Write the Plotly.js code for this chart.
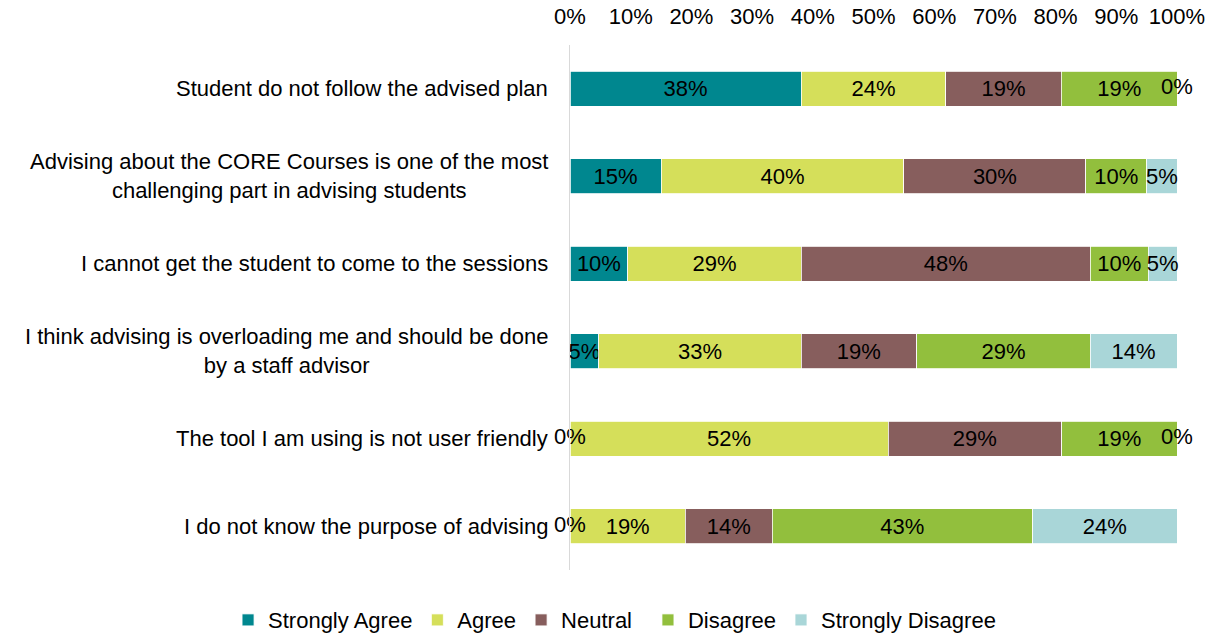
<!DOCTYPE html>
<html>
<head>
<meta charset="utf-8">
<script src="https://cdn.plot.ly/plotly-3.0.1.min.js"></script>
<style>html,body{margin:0;padding:0;background:#fff}#chart{width:1215px;height:636px}</style>
</head>
<body>
<div id="chart"></div>
<script>
const categories = [
  "Student do not follow the advised plan",
  "Advising about the CORE Courses is one of the most<br>challenging part in advising students",
  "I cannot get the student to come to the sessions",
  "I think advising is overloading me and should be done<br>by a staff advisor",
  "The tool I am using is not user friendly",
  "I do not know the purpose of advising"
];
const seriesNames = ["Strongly Agree", "Agree", "Neutral", "Disagree", "Strongly Disagree"];
const stronglyAgree    = [38.1, 15, 9.52, 4.76, 0, 0];
const agree            = [23.8, 40, 28.6, 33.3, 52.4, 19.0];
const neutral          = [19.05, 30, 47.6, 19.05, 28.6, 14.3];
const disagree         = [19.05, 10, 9.52, 28.6, 19.0, 42.9];
const stronglyDisagree = [0, 5, 4.76, 14.29, 0, 23.8];
const tickVals = [0,10,20,30,40,50,60,70,80,90,100];
const tickText = ["0%","10%","20%","30%","40%","50%","60%","70%","80%","90%","100%"];
const colors = ["#00878F", "#D5DF5A", "#875E5D", "#92BF3D", "#A9D6D8"];

const FONT = "Liberation Sans, Arial, sans-serif";
const FS = 22;
const series = [stronglyAgree, agree, neutral, disagree, stronglyDisagree];
const yIdx = categories.map((c, i) => i);

const traces = series.map((vals, k) => ({
  type: "bar",
  orientation: "h",
  name: seriesNames[k],
  legend: k < 3 ? "legend" : "legend2",
  x: vals,
  y: yIdx,
  marker: {color: colors[k], line: {color: "#ffffff", width: 0.8}},
  width: 0.4,
  text: vals.map(v => v > 0 ? Math.round(v) + "%" : ""),
  textposition: "inside",
  insidetextanchor: "middle",
  textangle: 0,
  constraintext: "none",
  cliponaxis: false,
  textfont: {family: FONT, size: FS, color: "#000"},
  hoverinfo: "skip"
}));

// zero-value labels placed at the cumulative position of the empty segment
const zx = [], zy = [], zt = [];
categories.forEach((c, i) => {
  let cum = 0;
  series.forEach(vals => {
    if (vals[i] === 0) { zx.push(Math.min(cum, 100)); zy.push(i); zt.push("0%"); }
    cum += vals[i];
  });
});
traces.push({
  type: "scatter", mode: "text", x: zx, y: zy, text: zt,
  textposition: "middle center", cliponaxis: false, showlegend: false,
  textfont: {family: FONT, size: FS, color: "#000"}, hoverinfo: "skip"
});

const annotations = categories.map((c, i) => ({
  xref: "paper", yref: "y", x: 0, y: i, xanchor: "right", yanchor: "middle",
  xshift: -20, align: "center", showarrow: false, text: c,
  font: {family: FONT, size: FS, color: "#000"}
}));

const legendBase = {
  orientation: "h", xref: "container", yref: "container",
  xanchor: "left", y: 0.025, yanchor: "middle",
  font: {family: FONT, size: FS, color: "#000"}, traceorder: "normal",
  itemclick: false, bgcolor: "rgba(0,0,0,0)"
};

const layout = {
  width: 1215, height: 636,
  margin: {l: 570, r: 38, t: 45, b: 66},
  paper_bgcolor: "#fff", plot_bgcolor: "#fff",
  barmode: "stack",
  font: {family: FONT, size: FS, color: "#000"},
  xaxis: {
    side: "top", range: [0, 100], tickvals: tickVals, ticktext: tickText,
    showgrid: false, zeroline: false, showline: false, ticks: "",
    ticklabelstandoff: 16,
    tickfont: {family: FONT, size: FS, color: "#000"}, fixedrange: true
  },
  yaxis: {
    range: [5.5, -0.5], showticklabels: false, showgrid: false, zeroline: false,
    showline: true, linecolor: "#d9d9d9", linewidth: 1.5, ticks: "", fixedrange: true
  },
  showlegend: true,
  legend: Object.assign({}, legendBase, {x: 0.1877}),
  legend2: Object.assign({}, legendBase, {x: 0.5333}),
  annotations: annotations
};

Plotly.newPlot("chart", traces, layout, {displayModeBar: false, staticPlot: true});
</script>
</body>
</html>
